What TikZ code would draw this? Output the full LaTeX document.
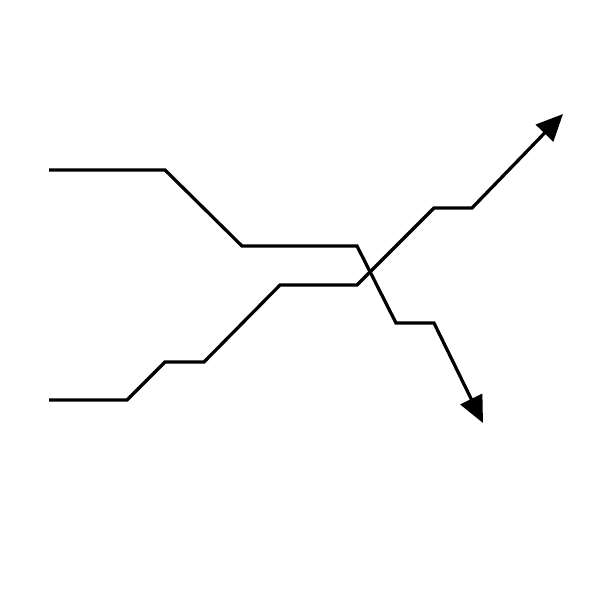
\documentclass[tikz,border=0pt]{standalone}
\usepackage{tikz}
\usetikzlibrary{arrows.meta}

\begin{document}
\begin{tikzpicture}[x=0.025cm,y=-0.025cm,
    trend/.style={line width=2.3pt,line join=miter,-{Triangle[length=19pt,width=17pt]}}]
      \useasboundingbox (0,0) rectangle (600,600);
      % falling line
      \coordinate (d0) at (49,170);
      \coordinate (d1) at (165,170);
      \coordinate (d2) at (242,246);
      \coordinate (d3) at (357,246);
      \coordinate (d4) at (396,323);
      \coordinate (d5) at (434,323);
      \coordinate (d6) at (483,423);
      % rising line
      \coordinate (u0) at (49,400);
      \coordinate (u1) at (127,400);
      \coordinate (u2) at (165,362);
      \coordinate (u3) at (204,362);
      \coordinate (u4) at (280,285);
      \coordinate (u5) at (357,285);
      \coordinate (u6) at (434,208);
      \coordinate (u7) at (472,208);
      \coordinate (u8) at (563,114);
      \draw[trend] (d0) -- (d1) -- (d2) -- (d3) -- (d4) -- (d5) -- (d6);
      \draw[trend] (u0) -- (u1) -- (u2) -- (u3) -- (u4) -- (u5) -- (u6) -- (u7) -- (u8);
    \end{tikzpicture}
\end{document}
